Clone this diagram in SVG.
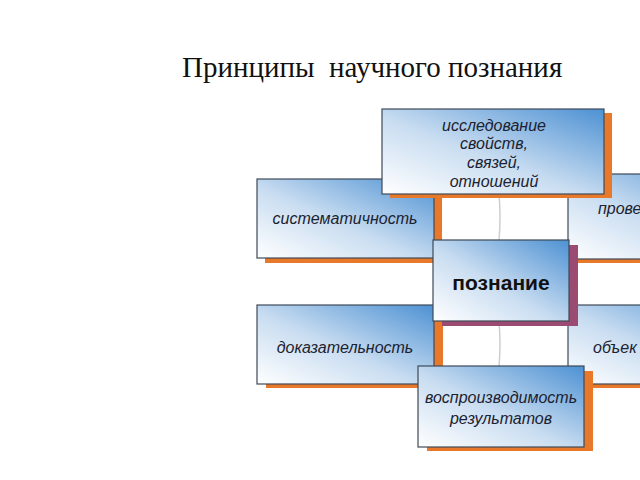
<svg xmlns="http://www.w3.org/2000/svg" width="640" height="480" viewBox="0 0 640 480">
<defs>
<linearGradient id="g" x1="0" y1="1" x2="1" y2="0">
<stop offset="0" stop-color="#ffffff"/>
<stop offset="0.45" stop-color="#c9ddf1"/>
<stop offset="1" stop-color="#4d91d3"/>
</linearGradient>
<style>
.box{fill:url(#g);stroke:#3e4a58;stroke-width:1.2}
.sh{fill:#e8792b}
.shp{fill:#9b4a72}
.t{font-family:"Liberation Sans",Arial,sans-serif;font-style:italic;font-size:16px;fill:#1c2230;text-anchor:middle}
.b{font-family:"Liberation Sans",Arial,sans-serif;font-weight:bold;font-size:21px;fill:#111;text-anchor:middle}
.title{font-family:"Liberation Serif","Times New Roman",serif;font-size:29px;fill:#111;white-space:pre}
.c{stroke:#cfcfcf;stroke-width:1.5;fill:none}
</style>
</defs>
<rect width="640" height="480" fill="#ffffff"/>
<text class="title" x="182" y="77" xml:space="preserve">Принципы  научного познания</text>
<g id="connectors">
<path class="c" d="M499 194 Q501 217 499 240"/>
<path class="c" d="M499 322 Q501 344 499 366"/>
</g>
<g id="n-systematic">
<rect class="sh" x="265" y="184" width="177" height="79"/>
<rect class="box" x="257" y="179" width="177" height="79"/>
<text class="t" x="345" y="224">систематичность</text>
</g>
<g id="n-proverka">
<rect class="sh" x="576" y="178" width="180" height="85"/>
<rect class="box" x="568" y="174" width="180" height="85"/>
<text class="t" x="598" y="214" style="text-anchor:start">прове</text>
</g>
<g id="n-research">
<rect class="sh" x="390" y="113" width="222" height="85"/>
<rect class="box" x="382" y="109" width="222" height="85"/>
<text class="t" x="494" y="131">исследование</text>
<text class="t" x="494" y="149">свойств,</text>
<text class="t" x="494" y="168">связей,</text>
<text class="t" x="494" y="187">отношений</text>
</g>
<g id="n-proof">
<rect class="sh" x="266" y="309" width="177" height="79"/>
<rect class="box" x="257" y="305" width="177" height="79"/>
<text class="t" x="345" y="353">доказательность</text>
</g>
<g id="n-objective">
<rect class="sh" x="576" y="309" width="180" height="79"/>
<rect class="box" x="568" y="305" width="180" height="79"/>
<text class="t" x="593" y="353" style="text-anchor:start">объек</text>
</g>
<g id="n-center">
<rect class="shp" x="442" y="245" width="136" height="81"/>
<rect class="box" x="433" y="240" width="136" height="81"/>
<text class="b" x="501" y="290">познание</text>
</g>
<g id="n-reproduce">
<rect class="sh" x="427" y="371" width="166" height="80"/>
<rect class="box" x="418" y="366" width="166" height="81"/>
<text class="t" x="501" y="403">воспроизводимость</text>
<text class="t" x="501" y="424">результатов</text>
</g>
</svg>
